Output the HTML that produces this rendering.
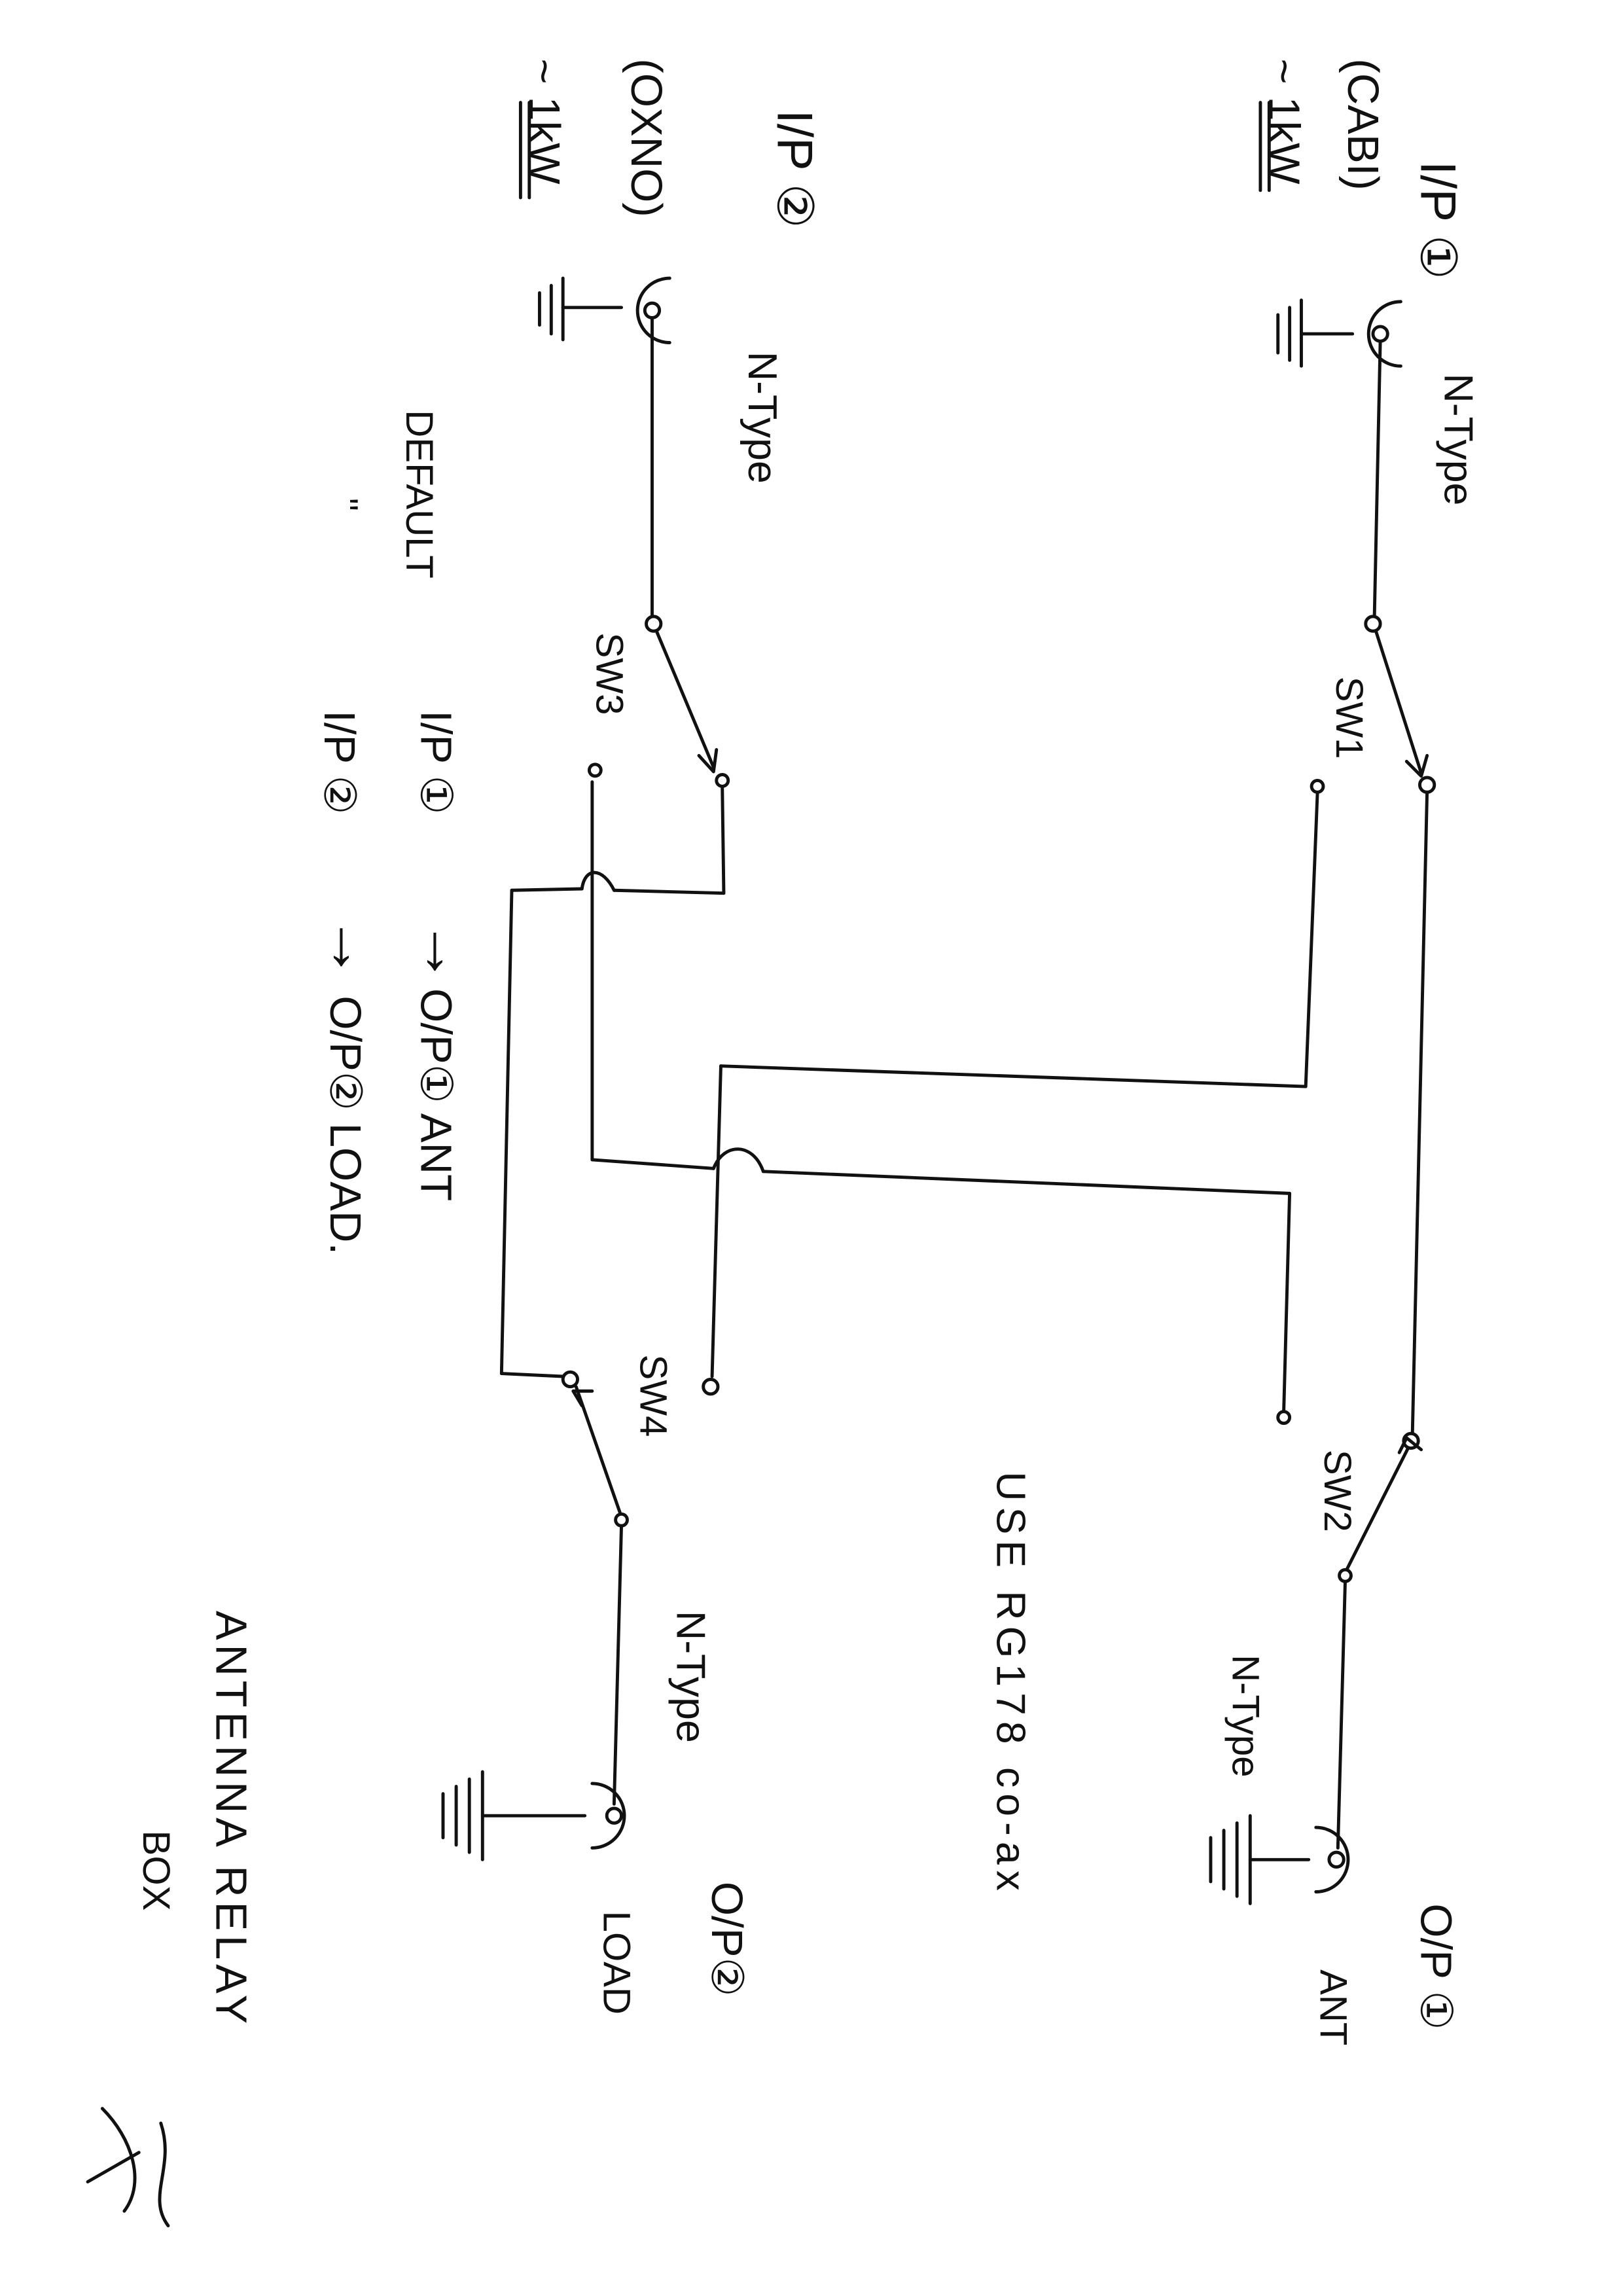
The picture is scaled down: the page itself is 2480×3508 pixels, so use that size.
<!DOCTYPE html>
<html><head><meta charset="utf-8"><style>
html,body{margin:0;padding:0;background:#fff;}
svg{display:block}
text{font-family:"Liberation Sans",sans-serif;fill:#111;}
</style></head><body>
<svg width="2480" height="3508" viewBox="0 0 1110 1568" preserveAspectRatio="none" xmlns="http://www.w3.org/2000/svg">
<rect width="1110" height="1568" fill="#fff"/>
<g fill="none" stroke="#111" stroke-width="2.2" stroke-linecap="round" stroke-linejoin="round">
<path d="M958 206 A22 22 0 1 0 958 250"/>
<circle cx="944" cy="228" r="5"/>
<line x1="925" y1="228" x2="890" y2="228"/>
<line x1="890" y1="205" x2="890" y2="250"/><line x1="882" y1="210" x2="882" y2="246"/><line x1="874" y1="215" x2="874" y2="241"/>
<line x1="944" y1="233" x2="940" y2="420"/>
<circle cx="939" cy="426" r="5"/>
<line x1="941" y1="431" x2="972" y2="528"/>
<path d="M962 520 L972 530 L976 516"/>
<circle cx="976" cy="536" r="5"/>
<circle cx="901" cy="537" r="4"/>
<line x1="976" y1="541" x2="966" y2="978"/>
<line x1="901" y1="542" x2="893" y2="742"/>
<line x1="893" y1="742" x2="493" y2="728"/>
<line x1="493" y1="728" x2="487" y2="940"/>
<circle cx="486" cy="947" r="5"/>
<circle cx="965" cy="984" r="5"/>
<line x1="963" y1="989" x2="921" y2="1072"/>
<path d="M957 992 L962 982 L972 990"/>
<circle cx="920" cy="1076" r="4"/>
<circle cx="878" cy="968" r="4"/>
<line x1="878" y1="963" x2="882" y2="815"/>
<line x1="882" y1="815" x2="522" y2="800"/>
<path d="M522 800 C515 780 495 780 488 798"/>
<line x1="488" y1="798" x2="405" y2="792"/>
<line x1="405" y1="792" x2="405" y2="534"/>
<circle cx="407" cy="526" r="4"/>
<line x1="920" y1="1080" x2="915" y2="1262"/>
<circle cx="914" cy="1270" r="5"/>
<path d="M900 1248 A22 22 0 1 1 900 1292"/>
<line x1="895" y1="1270" x2="855" y2="1270"/>
<line x1="855" y1="1240" x2="855" y2="1300"/><line x1="846" y1="1245" x2="846" y2="1295"/><line x1="837" y1="1250" x2="837" y2="1290"/><line x1="828" y1="1255" x2="828" y2="1285"/>
<path d="M458 190 A22 22 0 1 0 458 234"/>
<circle cx="446" cy="212" r="5"/>
<line x1="425" y1="210" x2="385" y2="210"/>
<line x1="385" y1="190" x2="385" y2="232"/><line x1="377" y1="195" x2="377" y2="228"/><line x1="369" y1="200" x2="369" y2="222"/>
<line x1="446" y1="217" x2="446" y2="420"/>
<circle cx="447" cy="426" r="5"/>
<line x1="449" y1="431" x2="488" y2="524"/>
<path d="M478 516 L488 527 L490 512"/>
<circle cx="494" cy="533" r="4"/>
<line x1="494" y1="538" x2="495" y2="610"/>
<line x1="495" y1="610" x2="420" y2="608"/>
<path d="M420 608 C412 592 400 592 398 607"/>
<line x1="398" y1="607" x2="350" y2="608"/>
<line x1="350" y1="608" x2="343" y2="938"/>
<line x1="343" y1="938" x2="385" y2="940"/>
<circle cx="390" cy="942" r="5"/>
<line x1="394" y1="947" x2="424" y2="1033"/>
<path d="M398 960 L392 950 L405 950"/>
<circle cx="425" cy="1038" r="4"/>
<line x1="425" y1="1042" x2="420" y2="1232"/>
<circle cx="420" cy="1240" r="5"/>
<path d="M405 1218 A22 22 0 1 1 405 1262"/>
<line x1="400" y1="1240" x2="330" y2="1240"/>
<line x1="330" y1="1210" x2="330" y2="1270"/><line x1="321" y1="1215" x2="321" y2="1265"/><line x1="312" y1="1220" x2="312" y2="1260"/><line x1="303" y1="1225" x2="303" y2="1255"/>
<line x1="868" y1="70" x2="868" y2="130"/><line x1="862" y1="70" x2="862" y2="130"/>
<line x1="362" y1="70" x2="362" y2="135"/><line x1="356" y1="70" x2="356" y2="135"/>
<path d="M70 1440 C90 1460 100 1490 85 1510 M95 1470 L60 1490 M110 1450 C120 1480 100 1500 115 1520"/>
</g>
<g font-size="34">
<text transform="translate(972,110) rotate(90)">I/P ①</text>
<text transform="translate(922,40) rotate(90)" font-size="30">(CABI)</text>
<text transform="translate(868,40) rotate(90)" font-size="30">~ 1kW</text>
<text transform="translate(988,255) rotate(90)" font-size="28">N-Type</text>
<text transform="translate(914,462) rotate(90)" font-size="26">SW1</text>
<text transform="translate(532,75) rotate(90)">I/P ②</text>
<text transform="translate(432,40) rotate(90)" font-size="30">(OXNO)</text>
<text transform="translate(362,40) rotate(90)" font-size="30">~ 1kW</text>
<text transform="translate(512,240) rotate(90)" font-size="28">N-Type</text>
<text transform="translate(278,280) rotate(90)" font-size="26">DEFAULT</text>
<text transform="translate(228,340) rotate(90)" font-size="24">''</text>
<text transform="translate(408,432) rotate(90)" font-size="26">SW3</text>
<text transform="translate(288,485) rotate(90)" font-size="30">I/P ①</text>
<text transform="translate(290,628) rotate(90)" font-size="44">→</text>
<text transform="translate(288,675) rotate(90)" font-size="30">O/P① ANT</text>
<text transform="translate(222,485) rotate(90)" font-size="30">I/P ②</text>
<text transform="translate(226,625) rotate(90)" font-size="44">→</text>
<text transform="translate(226,680) rotate(90)" font-size="30">O/P② LOAD.</text>
<text transform="translate(438,925) rotate(90)" font-size="26">SW4</text>
<text transform="translate(906,990) rotate(90)" font-size="26">SW2</text>
<text transform="translate(682,1005) rotate(90)" font-size="28" letter-spacing="4">USE  RG178   co-ax</text>
<text transform="translate(843,1130) rotate(90)" font-size="26">N-Type</text>
<text transform="translate(972,1300) rotate(90)" font-size="30">O/P ①</text>
<text transform="translate(903,1345) rotate(90)" font-size="26">ANT</text>
<text transform="translate(463,1100) rotate(90)" font-size="28">N-Type</text>
<text transform="translate(487,1285) rotate(90)" font-size="30">O/P②</text>
<text transform="translate(413,1305) rotate(90)" font-size="26">LOAD</text>
<text transform="translate(148,1100) rotate(90)" font-size="30" letter-spacing="3">ANTENNA   RELAY</text>
<text transform="translate(98,1250) rotate(90)" font-size="26">BOX</text>
</g>
</svg>
</body></html>
